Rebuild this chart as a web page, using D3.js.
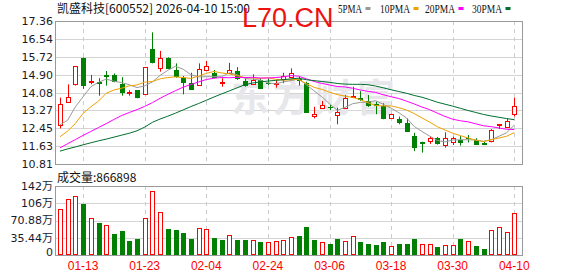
<!DOCTYPE html>
<html>
<head>
<meta charset="utf-8">
<script src="https://cdn.jsdelivr.net/npm/d3@7"></script>
<style>
body { margin: 0; background: #fff; }
svg { display: block; }
</style>
</head>
<body>
<div id="chart"></div>
<script>
// ---- data ----
var dates = ["01-08","01-09","01-12","01-13","01-14","01-15","01-16","01-19","01-20","01-21",
  "01-22","01-23","01-26","01-27","01-28","01-29","01-30","02-02","02-03","02-04",
  "02-05","02-06","02-09","02-10","02-11","02-12","02-13","02-24","02-25","02-26",
  "02-27","03-02","03-03","03-04","03-05","03-06","03-09","03-10","03-11","03-12",
  "03-13","03-16","03-17","03-18","03-19","03-20","03-23","03-24","03-25","03-26",
  "03-27","03-30","03-31","04-01","04-02","04-03","04-07","04-08","04-09","04-10"];

var openP = [12.60,13.64,14.46,15.68,14.56,14.57,14.87,14.89,14.49,14.08,
  14.19,14.03,16.08,15.19,15.68,15.13,14.74,14.51,14.43,15.13,
  14.96,14.53,14.99,15.07,14.61,14.49,14.66,14.52,14.50,14.69,
  14.81,14.71,14.51,13.01,13.36,13.43,13.05,13.39,13.90,13.84,
  13.70,13.56,13.47,12.90,12.87,12.70,12.09,11.80,11.88,12.01,
  11.68,11.83,11.91,12.00,11.91,11.75,11.86,12.61,12.49,13.09];
var highP = [13.85,14.46,15.29,15.68,14.89,14.74,15.07,14.96,14.79,14.19,
  14.19,15.26,16.84,15.99,15.70,15.42,14.84,14.99,15.42,15.53,
  15.12,14.74,15.44,15.25,14.74,14.92,14.74,14.74,14.66,14.99,
  15.19,14.81,14.58,13.43,13.70,13.51,13.39,13.97,14.35,14.15,
  13.97,13.66,13.59,13.12,12.98,12.90,12.24,11.83,12.09,12.05,
  12.26,12.06,12.09,12.14,11.99,11.83,12.41,12.64,12.90,13.85];
var lowP = [12.44,13.64,14.40,14.25,14.46,13.94,14.40,14.55,13.94,13.94,
  13.82,14.01,15.42,15.04,15.19,14.76,14.00,14.20,14.40,15.11,
  14.74,14.35,14.97,14.66,14.35,14.43,14.30,14.43,14.31,14.51,
  14.79,14.40,13.16,12.90,13.34,13.28,12.63,13.37,13.85,13.70,
  13.43,13.09,12.86,12.88,12.63,12.30,11.40,11.33,11.73,11.70,
  11.56,11.68,11.65,11.80,11.69,11.68,11.80,12.41,12.47,12.98];
var closeP = [13.54,13.88,15.29,14.43,14.59,14.54,14.84,14.61,14.12,14.10,
  13.88,15.24,15.50,15.65,15.22,14.85,14.55,14.23,15.15,15.29,
  14.81,14.58,15.10,14.74,14.43,14.66,14.31,14.50,14.52,14.84,
  14.99,14.68,13.18,13.09,13.51,13.41,13.18,13.82,13.93,13.81,
  13.51,13.50,12.93,13.09,12.75,12.32,11.57,11.78,12.01,11.76,
  11.99,12.02,11.83,11.98,11.73,11.71,12.35,12.63,12.79,13.47];

var volume = [945000,1150000,1212000,1054000,753000,664000,609000,438000,493000,294000,
  329000,753000,1308000,876000,534000,514000,459000,329000,548000,527000,
  349000,308000,404000,308000,308000,301000,267000,267000,288000,305000,
  360000,390000,575000,308000,267000,226000,329000,288000,390000,267000,
  226000,205000,267000,185000,226000,226000,329000,226000,226000,164000,
  199000,199000,329000,288000,185000,123000,507000,569000,473000,866898];

var ma5 = [12.60,12.82,13.43,13.89,14.35,14.55,14.70,14.60,14.54,14.44,
  14.31,14.39,14.57,14.87,15.10,15.29,15.15,14.90,14.80,14.81,
  14.81,14.81,14.99,14.90,14.73,14.70,14.65,14.53,14.48,14.57,
  14.63,14.71,14.44,14.16,13.89,13.57,13.27,13.40,13.57,13.63,
  13.65,13.71,13.54,13.37,13.16,12.92,12.53,12.30,12.09,11.89,
  11.82,11.91,11.92,11.92,11.91,11.85,11.92,12.08,12.24,12.59];
var ma10 = [12.06,12.32,12.67,13.13,13.43,13.69,14.05,14.20,14.28,14.39,
  14.43,14.56,14.59,14.71,14.77,14.80,14.77,14.73,14.84,14.96,
  15.05,14.98,14.94,14.85,14.77,14.75,14.73,14.76,14.69,14.65,
  14.67,14.68,14.49,14.32,14.23,14.10,13.99,13.92,13.86,13.76,
  13.61,13.49,13.47,13.47,13.39,13.28,13.12,12.92,12.73,12.52,
  12.37,12.22,12.11,12.00,11.90,11.84,11.92,12.00,12.08,12.25];
var ma20 = [11.55,11.74,11.93,12.12,12.30,12.48,12.66,12.85,13.03,13.17,
  13.30,13.45,13.62,13.82,14.00,14.17,14.33,14.45,14.57,14.68,
  14.74,14.77,14.76,14.78,14.77,14.78,14.75,14.75,14.77,14.80,
  14.86,14.83,14.71,14.59,14.50,14.43,14.36,14.34,14.28,14.20,
  14.14,14.09,13.98,13.89,13.81,13.69,13.56,13.42,13.30,13.14,
  12.99,12.86,12.79,12.74,12.65,12.56,12.52,12.46,12.40,12.39];
var ma30 = [11.40,11.50,11.59,11.69,11.78,11.87,11.95,12.04,12.13,12.22,
  12.33,12.50,12.72,12.87,13.00,13.14,13.29,13.44,13.58,13.73,
  13.88,14.02,14.16,14.30,14.44,14.52,14.57,14.61,14.64,14.67,
  14.71,14.74,14.67,14.63,14.59,14.55,14.50,14.47,14.46,14.46,
  14.44,14.38,14.30,14.21,14.13,14.05,13.95,13.87,13.76,13.64,
  13.55,13.46,13.36,13.26,13.17,13.08,13.01,12.95,12.89,12.84];

var priceTicks = [10.81, 11.63, 12.45, 13.27, 14.08, 14.90, 15.72, 16.54, 17.36];
var volTicks = [0, 354400, 708800, 1063200, 1417600];
var volTickLabels = ["0", "35.44万", "70.88万", "106万", "142万"];
var xLabelDates = ["01-13", "01-23", "02-04", "02-24", "03-06", "03-18", "03-30", "04-10"];

var maNames = ["5PMA", "10PMA", "20PMA", "30PMA"];
var maColors = ["#999999", "#f0a000", "#ff00ff", "#006e2e"];
var UP = "#ff0000", DOWN = "#008000";

// ---- layout ----
var W = 578, H = 276;
var left = 55.5, right = 522.5;
var kTop = 21, kBottom = 164;
var vTop = 186, vBottom = 255;

var svg = d3.select("#chart").append("svg")
  .attr("width", W).attr("height", H)
  .style("font-family", "'Liberation Sans', Arial, sans-serif");

var x = d3.scaleBand().domain(dates).range([56.15, 56.15 + 7.7 * dates.length]);
function cx(d) { return x(d) + x.bandwidth() / 2; }

var y = d3.scaleLinear().domain([10.81, 17.36]).range([kBottom, kTop]);
var yv = d3.scaleLinear().domain([0, 1417600]).range([vBottom, vTop]);

function crisp(v) { return Math.round(v) + 0.5; }

// ---- grids ----
svg.append("g").selectAll("line").data(priceTicks).enter().append("line")
  .attr("x1", left).attr("x2", right)
  .attr("y1", function(d) { return crisp(y(d)); })
  .attr("y2", function(d) { return crisp(y(d)); })
  .attr("stroke", "#d4d4d4");

svg.append("g").selectAll("line").data(volTicks).enter().append("line")
  .attr("x1", left).attr("x2", right)
  .attr("y1", function(d) { return crisp(yv(d)); })
  .attr("y2", function(d) { return crisp(yv(d)); })
  .attr("stroke", "#d4d4d4");

var vgrid = svg.append("g").selectAll("g").data(xLabelDates).enter().append("g");
vgrid.append("line")
  .attr("x1", function(d) { return crisp(cx(d)); })
  .attr("x2", function(d) { return crisp(cx(d)); })
  .attr("y1", kTop).attr("y2", kBottom)
  .attr("stroke", "#cccccc").attr("stroke-dasharray", "4,4");
vgrid.append("line")
  .attr("x1", function(d) { return crisp(cx(d)); })
  .attr("x2", function(d) { return crisp(cx(d)); })
  .attr("y1", vTop).attr("y2", vBottom)
  .attr("stroke", "#cccccc").attr("stroke-dasharray", "4,4");

// watermark behind the marks
svg.append("text")
  .attr("x", 231).attr("y", 111)
  .attr("font-family", "'Noto Sans CJK SC'")
  .attr("font-size", "38px").attr("font-weight", "bold")
  .attr("letter-spacing", "4px")
  .attr("fill", "#e7e7eb")
  .text("东方财富");

// ---- candles ----
var candles = svg.append("g").selectAll("g").data(dates).enter().append("g");

candles.append("line")
  .attr("x1", function(d) { return crisp(cx(d)); })
  .attr("x2", function(d) { return crisp(cx(d)); })
  .attr("y1", function(d, i) { return y(highP[i]); })
  .attr("y2", function(d, i) { return y(lowP[i]); })
  .attr("stroke", function(d, i) { return closeP[i] >= openP[i] ? UP : DOWN; });

candles.append("rect")
  .each(function(d, i) {
    var up = closeP[i] >= openP[i];
    var px = Math.round(cx(d));
    var top = Math.round(y(Math.max(openP[i], closeP[i])));
    var bot = Math.round(y(Math.min(openP[i], closeP[i])));
    var r = d3.select(this);
    if (up) {
      r.attr("x", px - 2 + 0.5).attr("y", top + 0.5)
       .attr("width", 4).attr("height", Math.max(1, bot - top))
       .attr("fill", "#fff").attr("stroke", UP);
    } else {
      r.attr("x", px - 2).attr("y", top)
       .attr("width", 5).attr("height", Math.max(1, bot - top + 1))
       .attr("fill", DOWN);
    }
  });

// ---- moving averages ----
[ma5, ma10, ma20, ma30].forEach(function(arr, k) {
  var line = d3.line()
    .x(function(d, i) { return cx(dates[i]); })
    .y(function(d) { return y(d); });
  svg.append("path")
    .datum(arr)
    .attr("d", line)
    .attr("fill", "none")
    .attr("stroke", maColors[k])
    .attr("stroke-width", 1);
});

// ---- volume ----
svg.append("g").selectAll("rect").data(dates).enter().append("rect")
  .each(function(d, i) {
    var prev = i > 0 ? closeP[i - 1] : openP[i];
    var up = closeP[i] >= prev;
    var px = Math.round(cx(d));
    var top = Math.round(yv(volume[i]));
    var r = d3.select(this);
    if (up) {
      r.attr("x", px - 2 + 0.5).attr("y", top + 0.5)
       .attr("width", 4).attr("height", vBottom - top - 1)
       .attr("fill", "#fff").attr("stroke", UP);
    } else {
      r.attr("x", px - 2).attr("y", top)
       .attr("width", 5).attr("height", vBottom - top)
       .attr("fill", DOWN);
    }
  });

// ---- frames ----
svg.append("rect").attr("x", left).attr("y", kTop + 0.5)
  .attr("width", right - left).attr("height", kBottom - kTop)
  .attr("fill", "none").attr("stroke", "#999");
svg.append("rect").attr("x", left).attr("y", vTop + 0.5)
  .attr("width", right - left).attr("height", vBottom - vTop)
  .attr("fill", "none").attr("stroke", "#999");

// ---- axis labels ----
svg.append("g").selectAll("text").data(priceTicks).enter().append("text")
  .attr("x", 53).attr("y", function(d) { return y(d); })
  .attr("dy", "0.36em")
  .attr("text-anchor", "end")
  .attr("font-family", "'DejaVu Sans'")
  .attr("font-size", "11px")
  .attr("fill", "#1a1a2a")
  .text(function(d) { return d.toFixed(2); });

svg.append("g").selectAll("text").data(volTicks).enter().append("text")
  .attr("x", 53).attr("y", function(d) { return yv(d); })
  .attr("dy", function(d, i) { return i === 0 ? "0.1em" : "0.36em"; })
  .attr("text-anchor", "end")
  .attr("font-family", "'DejaVu Sans', 'Noto Sans CJK SC'")
  .attr("font-size", "11px")
  .attr("fill", "#1a1a2a")
  .text(function(d, i) { return volTickLabels[i]; });

svg.append("g").selectAll("text").data(xLabelDates).enter().append("text")
  .attr("x", function(d) { return cx(d); })
  .attr("y", 270)
  .attr("text-anchor", "middle")
  .attr("font-size", "12px")
  .attr("fill", "#ff0000")
  .text(function(d) { return d; });

// ---- title, legend ----
svg.append("text")
  .attr("x", 57).attr("y", 13)
  .attr("font-family", "'Noto Sans CJK SC'")
  .attr("font-size", "12px")
  .attr("fill", "#111")
  .text("凯盛科技[600552] 2026-04-10 15:00");

svg.append("text")
  .attr("x", 57).attr("y", 182)
  .attr("font-family", "'Noto Sans CJK SC'")
  .attr("font-size", "12px")
  .attr("fill", "#111")
  .text("成交量:" + volume[volume.length - 1]);

var legendX = [338, 380, 425, 472];
var legend = svg.append("g").selectAll("g").data(maNames).enter().append("g");
legend.append("text")
  .attr("x", function(d, i) { return legendX[i]; })
  .attr("y", 12.5)
  .attr("font-family", "'Liberation Serif'")
  .attr("font-size", "12px")
  .attr("textLength", function(d) { return d.length * 6; })
  .attr("lengthAdjust", "spacingAndGlyphs")
  .attr("fill", "#111")
  .text(function(d) { return d; });
legend.append("rect")
  .attr("x", function(d, i) { return legendX[i] + d.length * 6 + 3.5; })
  .attr("y", 7).attr("width", 5).attr("height", 3)
  .attr("fill", function(d, i) { return maColors[i]; });

// red site mark on top
svg.append("text")
  .attr("x", 242).attr("y", 27)
  .attr("font-size", "27px")
  .attr("fill", "#ee1111")
  .text("L70.CN");
</script>
</body>
</html>
